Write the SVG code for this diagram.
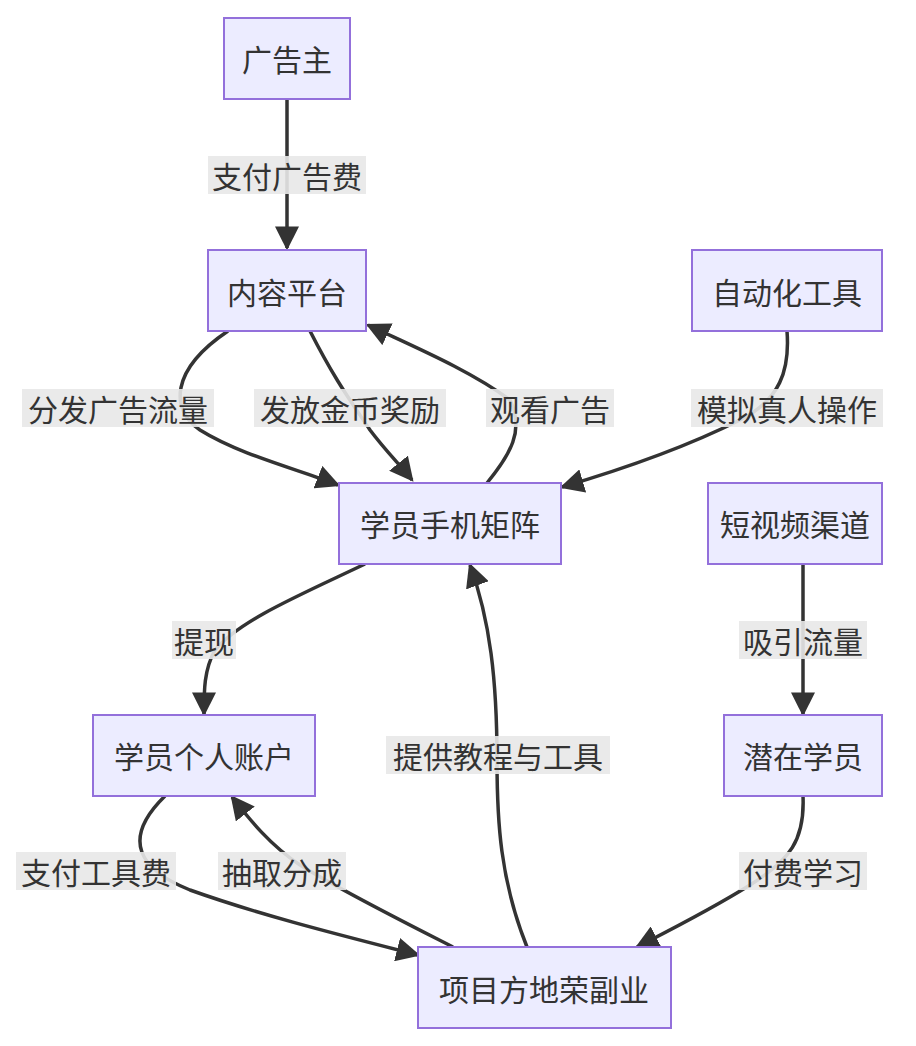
<svg xmlns="http://www.w3.org/2000/svg" width="916" height="1046" viewBox="0 0 916 1046">
<style>
.n rect{fill:#ECECFF;stroke:#9370DB;stroke-width:2}
text{font-family:"Noto Sans CJK SC","Liberation Sans",sans-serif;font-size:30px;fill:#333;text-anchor:middle;dominant-baseline:central}
.e path{fill:none;stroke:#333;stroke-width:3.5}
.l rect{fill:#e8e8e8;opacity:0.9}
</style>
<defs><marker id="a" viewBox="0 0 10 10" refX="9" refY="5" markerWidth="7" markerHeight="7" markerUnits="userSpaceOnUse" orient="auto"><path d="M0,0L10,5L0,10z" fill="#333"/></marker>
<marker id="b" viewBox="0 0 10 10" refX="9" refY="5" markerWidth="24" markerHeight="24" markerUnits="userSpaceOnUse" orient="auto"><path d="M0,0L10,5L0,10z" fill="#333"/></marker></defs>
<g class="e">
<path d="M287,99 L287,248" marker-end="url(#b)"/>
<path d="M228,331 C170,370 170,410 200,430 C240,455 300,470 338,485" marker-end="url(#b)"/>
<path d="M310,331 C335,380 350,400 370,430 C385,450 400,465 412,480" marker-end="url(#b)"/>
<path d="M487,483 C510,455 525,430 510,400 C470,370 410,345 368,325" marker-end="url(#b)"/>
<path d="M787,331 C790,370 780,400 740,420 C680,450 620,470 562,487" marker-end="url(#b)"/>
<path d="M365,564 C300,595 240,620 215,650 C204,670 204,690 204,714" marker-end="url(#b)"/>
<path d="M803,564 L803,714" marker-end="url(#b)"/>
<path d="M165,796 C120,840 140,870 190,890 C260,915 340,935 418,955" marker-end="url(#b)"/>
<path d="M453,947 C400,920 340,890 300,865 C270,845 250,820 232,797" marker-end="url(#b)"/>
<path d="M527,947 C500,880 497,820 497,760 C497,680 490,620 470,565" marker-end="url(#b)"/>
<path d="M803,796 C805,840 790,860 750,885 C710,910 670,930 637,947" marker-end="url(#b)"/>
</g>
<g class="l">
<rect x="208" y="156" width="158" height="38"/><text x="287" y="175">支付广告费</text>
<rect x="22" y="389" width="192" height="38"/><text x="118" y="408">分发广告流量</text>
<rect x="254" y="389" width="192" height="38"/><text x="350" y="408">发放金币奖励</text>
<rect x="486" y="389" width="128" height="38"/><text x="550" y="408">观看广告</text>
<rect x="691" y="389" width="192" height="38"/><text x="787" y="408">模拟真人操作</text>
<rect x="172" y="621" width="64" height="38"/><text x="204" y="640">提现</text>
<rect x="739" y="621" width="128" height="38"/><text x="803" y="640">吸引流量</text>
<rect x="386" y="736" width="224" height="38"/><text x="498" y="755">提供教程与工具</text>
<rect x="16" y="852" width="160" height="38"/><text x="96" y="871">支付工具费</text>
<rect x="218" y="852" width="128" height="38"/><text x="282" y="871">抽取分成</text>
<rect x="739" y="852" width="128" height="38"/><text x="803" y="871">付费学习</text>
</g>
<g class="n" id="n1"><rect x="224" y="18" width="126" height="81"/><text x="287" y="58">广告主</text></g>
<g class="n" id="n2"><rect x="208" y="250" width="158" height="81"/><text x="287" y="291">内容平台</text></g>
<g class="n" id="n3"><rect x="692" y="250" width="190" height="81"/><text x="787" y="291">自动化工具</text></g>
<g class="n" id="n4"><rect x="339" y="483" width="222" height="81"/><text x="450" y="523">学员手机矩阵</text></g>
<g class="n" id="n5"><rect x="708" y="483" width="174" height="81"/><text x="795" y="523">短视频渠道</text></g>
<g class="n" id="n6"><rect x="93" y="715" width="222" height="81"/><text x="204" y="755">学员个人账户</text></g>
<g class="n" id="n7"><rect x="724" y="715" width="158" height="81"/><text x="803" y="755">潜在学员</text></g>
<g class="n" id="n8"><rect x="418" y="947" width="253" height="81"/><text x="544" y="988">项目方地荣副业</text></g>
</svg>
